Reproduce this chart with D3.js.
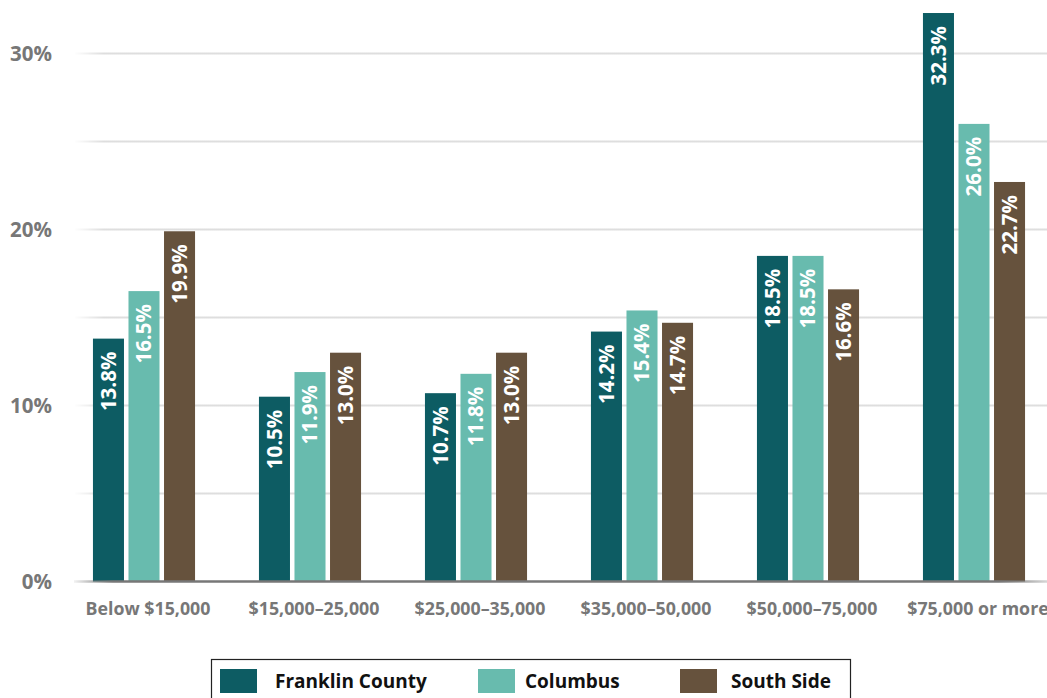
<!DOCTYPE html>
<html>
<head>
<meta charset="utf-8">
<script src="https://cdn.jsdelivr.net/npm/d3@7"></script>
<style>
  html, body { margin: 0; padding: 0; background: #fff; }
  svg { display: block; }
  text { font-family: "Open Sans", Lato, sans-serif; font-weight: 700; }
</style>
</head>
<body>
<svg id="chart" width="1047" height="698"></svg>
<script>
const categories = ["Below $15,000", "$15,000\u201325,000", "$25,000\u201335,000", "$35,000\u201350,000", "$50,000\u201375,000", "$75,000 or more"];
const seriesNames = ["Franklin County", "Columbus", "South Side"];
const franklinCounty = [13.8, 10.5, 10.7, 14.2, 18.5, 32.3];
const columbus = [16.5, 11.9, 11.8, 15.4, 18.5, 26.0];
const southSide = [19.9, 13.0, 13.0, 14.7, 16.6, 22.7];
const yTicks = [0, 10, 20, 30];
const gridTicks = [5, 10, 15, 20, 25, 30];
const colors = ["#0d5c63", "#68bbae", "#66523d"];

const seriesValues = [franklinCounty, columbus, southSide];
const svg = d3.select("#chart");

const y = d3.scaleLinear().domain([0, 30]).range([581.5, 53.5]);
const x0 = d3.scaleBand().domain(categories).range([61, 1057]).paddingInner(0.385).paddingOuter(0.1925);
const x1 = d3.scaleBand().domain(seriesNames).range([0, x0.bandwidth()]).paddingInner(0.127).paddingOuter(0);

const defs = svg.append("defs");
const g1 = defs.append("linearGradient").attr("id", "gridFade").attr("gradientUnits", "userSpaceOnUse")
  .attr("x1", 74).attr("x2", 1047).attr("y1", 0).attr("y2", 0);
g1.append("stop").attr("offset", 0).attr("stop-color", "#dedede").attr("stop-opacity", 0);
g1.append("stop").attr("offset", 0.03).attr("stop-color", "#dedede").attr("stop-opacity", 1);
g1.append("stop").attr("offset", 1).attr("stop-color", "#dedede").attr("stop-opacity", 1);
const g2 = defs.append("linearGradient").attr("id", "baseFade").attr("gradientUnits", "userSpaceOnUse")
  .attr("x1", 74).attr("x2", 1047).attr("y1", 0).attr("y2", 0);
g2.append("stop").attr("offset", 0).attr("stop-color", "#777").attr("stop-opacity", 0.1);
g2.append("stop").attr("offset", 0.04).attr("stop-color", "#777").attr("stop-opacity", 1);
g2.append("stop").attr("offset", 0.95).attr("stop-color", "#777").attr("stop-opacity", 1);
g2.append("stop").attr("offset", 1).attr("stop-color", "#777").attr("stop-opacity", 0.3);

// gridlines
svg.append("g").selectAll("line").data(gridTicks).join("line")
  .attr("x1", 74).attr("x2", 1047)
  .attr("y1", d => y(d)).attr("y2", d => y(d))
  .attr("stroke", "url(#gridFade)").attr("stroke-width", 2);

// y labels
svg.append("g").selectAll("text").data(yTicks).join("text")
  .attr("x", 52).attr("y", d => y(d)).attr("dy", "0.36em")
  .attr("text-anchor", "end").attr("fill", "#777").attr("font-size", 20.5)
  .text(d => d + "%");

// bars
const groups = svg.append("g").selectAll("g").data(categories).join("g")
  .attr("transform", d => `translate(${x0(d)},0)`);

groups.each(function(cat, ci) {
  const g = d3.select(this);
  const data = seriesNames.map((s, si) => ({ s, si, v: seriesValues[si][ci] }));
  g.selectAll("rect").data(data).join("rect")
    .attr("x", d => x1(d.s)).attr("width", x1.bandwidth())
    .attr("y", d => y(d.v)).attr("height", d => y(0) - y(d.v))
    .attr("fill", d => colors[d.si]);
  g.selectAll("text").data(data).join("text")
    .attr("transform", d => `translate(${x1(d.s) + x1.bandwidth() / 2},${y(d.v) + 13}) rotate(-90)`)
    .attr("text-anchor", "end").attr("dy", "0.36em")
    .attr("fill", "#fff").attr("font-size", 20.5)
    .text(d => d.v.toFixed(1) + "%");
});

// baseline
svg.append("line").attr("x1", 74).attr("x2", 1047).attr("y1", y(0)).attr("y2", y(0))
  .attr("stroke", "url(#baseFade)").attr("stroke-width", 2.5);

// x labels
svg.append("g").selectAll("text").data(categories).join("text")
  .attr("x", d => x0(d) + x0.bandwidth() / 2 + 4).attr("y", 614.5)
  .attr("text-anchor", "middle").attr("fill", "#777").attr("font-size", 17.8)
  .text(d => d);

// legend
const legend = svg.append("g");
legend.append("rect").attr("x", 211.5).attr("y", 659.5).attr("width", 639).attr("height", 50)
  .attr("fill", "none").attr("stroke", "#222").attr("stroke-width", 1.2);
const legendX = [220, 478, 680];
const items = legend.selectAll("g.item").data(seriesNames).join("g").attr("class", "item")
  .attr("transform", (d, i) => `translate(${legendX[i]},669)`);
items.append("rect").attr("width", 37).attr("height", 24).attr("fill", (d, i) => colors[i]);
items.append("text").attr("x", (d, i) => [55, 47, 51][i]).attr("y", 12).attr("dy", "0.36em")
  .attr("fill", "#111").attr("font-size", 19).text(d => d);
</script>
</body>
</html>
